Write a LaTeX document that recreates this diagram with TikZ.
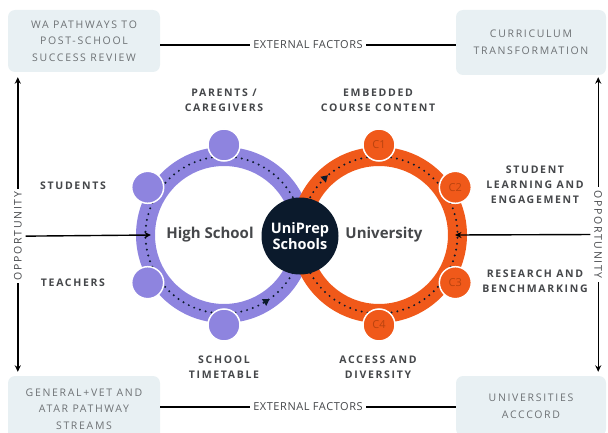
\documentclass[tikz,border=0pt]{standalone}
\usepackage{fontspec}
\setmainfont{Open Sans}
\newfontfamily\tagfont[LetterSpace=16]{Open Sans}
\newfontfamily\linkfont[LetterSpace=5]{Open Sans}
\usetikzlibrary{shapes,arrows,arrows.meta,positioning,calc,decorations.markings}

\definecolor{hspurple}{HTML}{8E84DF}
\definecolor{unorange}{HTML}{F0591A}
\definecolor{navy}{HTML}{0B1A2C}
\definecolor{boxfill}{HTML}{E8F0F3}
\definecolor{boxtext}{HTML}{6E7275}
\definecolor{tagtext}{HTML}{45474A}
\definecolor{cnum}{HTML}{B9430F}

\tikzset{
  box/.style={fill=boxfill, rounded corners=7pt, minimum width=152pt, align=center,
    text=boxtext, font=\tagfont\fontsize{10.5}{16.5}\selectfont},
  tag/.style={align=center, text=tagtext, font=\tagfont\bfseries\fontsize{10.5}{15}\selectfont},
  ring/.style={line width=19pt},
  stop/.style={circle, draw=white, line width=1.5pt, minimum size=32pt, inner sep=0pt},
  dots/.style={navy, line width=2.2pt, line cap=round, dash pattern=on 0pt off 6pt},
  flow/.style={postaction={decorate, decoration={markings, mark=at position #1 with
    {\fill[navy, solid] (3.5pt,0) -- (-3pt,4pt) -- (-3pt,-4pt) -- cycle;}}}},
  link/.style={line width=1.4pt, text=tagtext, font=\linkfont\fontsize{11}{13}\selectfont}
}

\begin{document}
\begin{tikzpicture}[>={Stealth[length=6.5pt, width=6pt]}, x=1pt, y=1pt]
    \clip (0,0) rectangle (608,432);

    % corner boxes
    \node[box, minimum height=62pt] (wa) at (84,391) {WA PATHWAYS TO\\POST-SCHOOL\\SUCCESS REVIEW};
    \node[box, minimum width=150pt, minimum height=65pt] (cur) at (531,389.5) {CURRICULUM\\TRANSFORMATION};
    \node[box, minimum height=66pt] (gen) at (84,23) {GENERAL+VET AND\\ATAR PATHWAY\\STREAMS};
    \node[box, minimum width=150pt, minimum height=60pt] (acc) at (531,26) {UNIVERSITIES\\ACCCORD};

    % external factors
    \draw[link] ([yshift=-4pt]wa.east) -- ([yshift=-4pt]wa.east -| cur.west)
        node[midway, fill=white, inner xsep=3pt] (ext1) {EXTERNAL FACTORS};
    \draw[link] ([yshift=2pt]gen.east) -- ([yshift=2pt]gen.east -| acc.west)
        node[midway, fill=white, inner xsep=3pt] (ext2) {EXTERNAL FACTORS};

    % opportunity
    \draw[link, <->, shorten <=5pt, shorten >=4pt] ([xshift=10pt]wa.south west) -- ([xshift=10pt]gen.north west)
        node[pos=0.54, fill=white, rotate=90, font=\tagfont\fontsize{10.5}{12}\selectfont, inner xsep=3pt] (oppL) {OPPORTUNITY};
    \draw[link, <->, shorten <=2pt, shorten >=4pt] ([xshift=-8pt]cur.south east) -- ([xshift=-8pt]acc.north east)
        node[pos=0.53, fill=white, rotate=-90, font=\tagfont\fontsize{10.5}{12}\selectfont, inner xsep=3pt] (oppR) {OPPORTUNITY};

    % rings
    \coordinate (hs) at (224,197);
    \coordinate (un) at (379,197);
    \draw[ring, hspurple] (hs) circle (78.5);
    \draw[ring, unorange] (un) circle (78.5);
    \coordinate (hsin) at ($(hs)+(180:73)$);
    \coordinate (unin) at ($(un)+(0:76)$);

    % dotted flow
    \draw[dots, flow=0.884] ($(hs)+(20:78.5)$) arc[start angle=20, end angle=340, radius=78.5];
    \draw[dots, flow=0.084] ($(un)+(160:78.5)$) arc[start angle=160, end angle=-160, radius=78.5];

    % arrows in
    \draw[link, ->] (oppL.south) -- (hsin);
    \draw[link, ->] (oppR.south) -- (unin);

    % stops
    \foreach \a in {90,148,212,270}
        \node[stop, fill=hspurple] (hs\a) at ($(hs)+(\a:90)$) {};
    \foreach \a/\t in {90/C1,32/C2,-32/C3,-90/C4}
        \node[stop, fill=unorange, text=cnum, font=\fontsize{11}{12}\selectfont] (\t) at ($(un)+(\a:90)$) {\t};

    % centre
    \node[circle, fill=navy, minimum size=77pt, inner sep=0pt, text=white, align=center,
        font=\bfseries\fontsize{14.5}{16}\selectfont] (uni) at (300,196) {UniPrep\\Schools};
    \node[text=tagtext, font=\bfseries\fontsize{15}{18}\selectfont] (hsname) at (210,197) {High School};
    \node[text=tagtext, font=\bfseries\fontsize{15}{18}\selectfont] (unname) at (384,197) {University};

    % labels
    \node[tag] (parents) at (224,332) {PARENTS /\\CAREGIVERS};
    \node[tag] (course) at (378,332) {EMBEDDED\\COURSE CONTENT};
    \node[tag] (students) at (73,246) {STUDENTS};
    \node[tag] (teachers) at (73,149) {TEACHERS};
    \node[tag] (learning) at (535,247) {STUDENT\\LEARNING AND\\ENGAGEMENT};
    \node[tag] (research) at (535,150.5) {RESEARCH AND\\BENCHMARKING};
    \node[tag] (timetable) at (224,65) {SCHOOL\\TIMETABLE};
    \node[tag] (access) at (378,65) {ACCESS AND\\DIVERSITY};
\end{tikzpicture}
\end{document}
